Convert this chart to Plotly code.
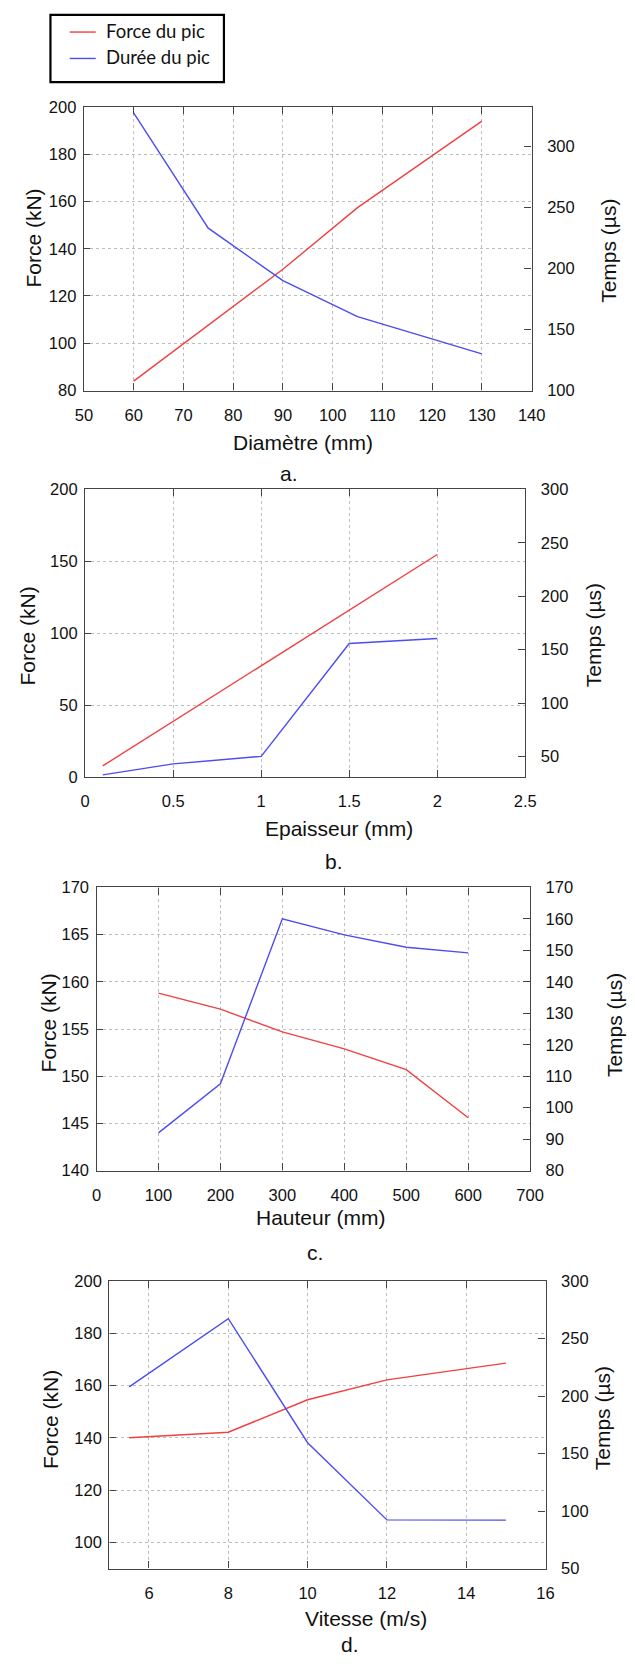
import plotly.graph_objects as go

# ---------------- data ----------------
diametre = [60, 75, 90, 105, 130]
force_a = [84, 107.6, 131.3, 157.4, 194]
duree_a = [327.5, 233, 190, 160.5, 130]

epaisseur = [0.1, 0.5, 1, 1.5, 2]
force_b = [8, 38.8, 77.3, 115.8, 154.7]
duree_b = [33, 43.2, 50.3, 155.8, 160.4]

hauteur = [100, 200, 300, 400, 500, 600]
force_c = [158.8, 157.1, 154.7, 152.9, 150.7, 145.6]
duree_c = [92, 107.6, 160, 154.9, 151, 149.2]

vitesse = [5.5, 8, 10, 12, 15]
force_d = [140.1, 142.2, 154.6, 162.2, 168.6]
duree_d = [208, 267.3, 159.5, 92.4, 92.2]

legend_labels = ["Force du pic", "Durée du pic"]
x_titles = ["Diamètre (mm)", "Epaisseur (mm)", "Hauteur (mm)", "Vitesse (m/s)"]
captions = ["a.", "b.", "c.", "d."]
y_title_left = "Force (kN)"
y_title_right = "Temps (µs)"

# ---------------- layout helpers ----------------
W, H = 635, 1665
RED = "rgb(240,64,64)"
BLUE = "rgb(76,76,240)"
AXC = "#444444"
GRIDC = "#bdbdbd"
FAM = "Arial, Liberation Sans, Helvetica, sans-serif"
TICKFONT = dict(family=FAM, size=16.5, color="#111")
TITLEFONT = dict(family=FAM, size=21, color="#111")

panels = [
    dict(x=diametre, f=force_a, t=duree_a,
         px=(77.7, 542.3), py=(99, 385.7),
         xr=[50, 140], xt=10, yl=[80, 200], ylt=20, yr=[100, 332.3], yrt=50,
         xtitle=(305, 438), ytl=(25, 232), ytr=(622, 244), cap=(291, 470)),
    dict(x=epaisseur, f=force_b, t=duree_b,
         px=(79, 535.7), py=(485.5, 776.8),
         xr=[0, 2.5], xt=0.5, yl=[0, 200], ylt=50, yr=[30.6, 300], yrt=50,
         xtitle=(342, 828), ytl=(19, 634), ytr=(606, 633), cap=(337, 862)),
    dict(x=hauteur, f=force_c, t=duree_c,
         px=(90.8, 540.7), py=(888, 1174.3),
         xr=[0, 700], xt=100, yl=[140, 170], ylt=5, yr=[80, 170], yrt=10,
         xtitle=(324, 1222), ytl=(41, 1025), ytr=(629, 1027), cap=(317, 1257)),
    dict(x=vitesse, f=force_d, t=duree_d,
         px=(104.1, 556.7), py=(1286, 1576.7),
         xr=[5, 16], xt=2, yl=[90, 200], ylt=20, yr=[50, 300], yrt=50,
         xtitle=(370, 1627), ytl=(43, 1426), ytr=(616, 1425), cap=(354, 1653)),
]

fig = go.Figure()
annotations = []
shapes = []

for i, p in enumerate(panels):
    n = i + 1
    xa = "x" if n == 1 else f"x{n}"
    yl = f"y{2*n-1}" if n > 1 else "y"
    yr = f"y{2*n}"
    xkey = "xaxis" if n == 1 else f"xaxis{n}"
    ylkey = "yaxis" if n == 1 else f"yaxis{2*n-1}"
    yrkey = f"yaxis{2*n}"

    fig.add_trace(go.Scatter(x=p["x"], y=p["f"], mode="lines", xaxis=xa, yaxis=yl,
                             line=dict(color=RED, width=1.4), showlegend=False,
                             name=legend_labels[0]))
    fig.add_trace(go.Scatter(x=p["x"], y=p["t"], mode="lines", xaxis=xa, yaxis=yr,
                             line=dict(color=BLUE, width=1.4), showlegend=False,
                             name=legend_labels[1]))

    xd = [p["px"][0] / W, p["px"][1] / W]
    yd = [1 - p["py"][1] / H, 1 - p["py"][0] / H]

    fig.layout[xkey] = dict(
        domain=xd, range=p["xr"], dtick=p["xt"], tick0=0, anchor=yl,
        showline=True, linecolor=AXC, linewidth=1.4, mirror="ticks",
        ticks="inside", ticklen=7, tickcolor=AXC, tickwidth=1.2,
        showgrid=True, gridcolor=GRIDC, griddash="dot", gridwidth=1,
        zeroline=False, tickfont=TICKFONT, ticklabelstandoff=9,
    )
    fig.layout[ylkey] = dict(
        domain=yd, range=p["yl"], dtick=p["ylt"], tick0=0, anchor=xa,
        showline=True, linecolor=AXC, linewidth=1.4,
        ticks="inside", ticklen=6, tickcolor=AXC, tickwidth=1.2,
        showgrid=True, gridcolor=GRIDC, griddash="dot", gridwidth=1,
        zeroline=False, tickfont=TICKFONT, ticklabelstandoff=3,
    )
    fig.layout[yrkey] = dict(
        range=p["yr"], dtick=p["yrt"], tick0=0, anchor=xa, overlaying=yl, side="right",
        showline=True, linecolor=AXC, linewidth=1.4,
        ticks="inside", ticklen=7, tickcolor=AXC, tickwidth=1.2,
        showgrid=False, zeroline=False, tickfont=TICKFONT, ticklabelstandoff=11,
    )

    annotations.append(dict(text=x_titles[i], x=p["xtitle"][0] / W, y=1 - p["xtitle"][1] / H,
                            xref="paper", yref="paper", showarrow=False, font=TITLEFONT,
                            xanchor="center", yanchor="middle"))
    annotations.append(dict(text=y_title_left, x=p["ytl"][0] / W, y=1 - p["ytl"][1] / H,
                            xref="paper", yref="paper", showarrow=False, font=TITLEFONT,
                            textangle=-90, xanchor="center", yanchor="middle"))
    annotations.append(dict(text=y_title_right, x=p["ytr"][0] / W, y=1 - p["ytr"][1] / H,
                            xref="paper", yref="paper", showarrow=False, font=TITLEFONT,
                            textangle=-90, xanchor="center", yanchor="middle"))
    annotations.append(dict(text=captions[i], x=p["cap"][0] / W, y=1 - p["cap"][1] / H,
                            xref="paper", yref="paper", showarrow=False, font=TITLEFONT,
                            xanchor="center", yanchor="middle"))

# ---------------- legend box (drawn) ----------------
LEGFONT = dict(family="Lato, Open Sans, sans-serif", size=18.5, color="#111")
shapes.append(dict(type="rect", xref="paper", yref="paper",
                   x0=43 / W, x1=223 / W, y0=1 - 74 / H, y1=1 - 6 / H,
                   line=dict(color="black", width=2.2), fillcolor="white"))
for k, (col, yy) in enumerate([(RED, 23.3), (BLUE, 50)]):
    shapes.append(dict(type="line", xref="paper", yref="paper",
                       x0=63 / W, x1=90 / W, y0=1 - yy / H, y1=1 - yy / H,
                       line=dict(color=col, width=1.4)))
    annotations.append(dict(text=legend_labels[k], x=99 / W, y=1 - (yy - 1.5) / H,
                            xref="paper", yref="paper", showarrow=False, font=LEGFONT,
                            xanchor="left", yanchor="middle"))

fig.update_layout(
    width=W, height=H, margin=dict(l=0, r=0, t=0, b=0),
    paper_bgcolor="white", plot_bgcolor="white",
    showlegend=False, annotations=annotations, shapes=shapes,
)

fig.write_html("out.html", config={"displayModeBar": False},
               post_script="document.body.style.margin='0';document.body.style.overflow='hidden';")
